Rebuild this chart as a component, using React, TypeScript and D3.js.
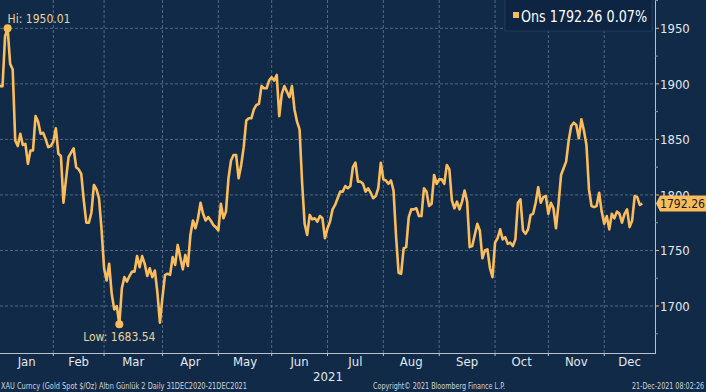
import * as d3 from "d3";
import { useEffect, useRef } from "react";

// XAU daily closes, one per weekday, 31 Dec 2020 -> 21 Dec 2021
const dec2020 = [1898];
const jan = [1898, 1943, 1950.01, 1918, 1913, 1849, 1844, 1855, 1845, 1846, 1828, 1840, 1840, 1871, 1866, 1855, 1856, 1850, 1843, 1844, 1848];
const feb = [1860, 1837, 1835, 1793, 1814, 1834, 1838, 1842, 1825, 1823, 1819, 1795, 1775, 1775, 1784, 1809, 1805, 1797, 1769, 1734];
const mar = [1723, 1738, 1711, 1697, 1700, 1683.54, 1716, 1726, 1722, 1727, 1731, 1731, 1745, 1735, 1745, 1738, 1727, 1734, 1726, 1732, 1712, 1685, 1708];
const apr = [1728, 1729, 1728, 1744, 1737, 1755, 1744, 1733, 1746, 1736, 1764, 1777, 1770, 1779, 1793, 1783, 1777, 1780, 1777, 1773, 1771, 1768];
const may = [1792, 1779, 1785, 1815, 1831, 1836, 1836, 1815, 1827, 1843, 1867, 1869, 1869, 1877, 1881, 1882, 1898, 1896, 1896, 1903, 1906];
const jun = [1903, 1908, 1871, 1891, 1898, 1893, 1888, 1898, 1877, 1866, 1859, 1811, 1774, 1764, 1782, 1778, 1779, 1776, 1781, 1779, 1761, 1770];
const jul = [1776, 1787, 1791, 1797, 1803, 1803, 1808, 1806, 1808, 1825, 1829, 1812, 1812, 1810, 1803, 1806, 1802, 1797, 1799, 1806, 1829, 1814];
const aug = [1813, 1810, 1813, 1804, 1763, 1730, 1729, 1752, 1753, 1780, 1787, 1787, 1788, 1781, 1781, 1806, 1803, 1790, 1792, 1818, 1810, 1814];
const sep = [1814, 1810, 1827, 1823, 1795, 1788, 1794, 1787, 1794, 1804, 1794, 1753, 1754, 1764, 1774, 1768, 1743, 1750, 1751, 1734, 1726, 1757];
const oct = [1761, 1769, 1760, 1762, 1756, 1757, 1754, 1760, 1793, 1796, 1768, 1765, 1769, 1782, 1783, 1793, 1807, 1793, 1798, 1799, 1783];
const nov = [1793, 1788, 1770, 1792, 1818, 1824, 1830, 1849, 1862, 1865, 1863, 1851, 1868, 1858, 1845, 1805, 1790, 1789, 1790, 1802, 1785, 1774];
const dec = [1781, 1769, 1783, 1779, 1785, 1783, 1775, 1783, 1787, 1771, 1777, 1799, 1798, 1791, 1792.26];

const monthLabels = ["Jan", "Feb", "Mar", "Apr", "May", "Jun", "Jul", "Aug", "Sep", "Oct", "Nov", "Dec"];
const monthSeries = [jan, feb, mar, apr, may, jun, jul, aug, sep, oct, nov, dec];
const yTicks = [1700, 1750, 1800, 1850, 1900, 1950];
const yMinorTicks = [1675, 1725, 1775, 1825, 1875, 1925, 1975];

const hiLabel = "Hi: 1950.01";
const lowLabel = "Low: 1683.54";
const legendText = "Ons 1792.26 0.07%";
const lastLabel = "1792.26";
const yearLabel = "2021";
const footerLeft = "XAU Curncy (Gold Spot   $/Oz) Altın Günlük 2  Daily 31DEC2020-21DEC2021";
const footerMid = "Copyright\u00A9 2021 Bloomberg Finance L.P.";
const footerRight = "21-Dec-2021 08:02:26";

const W = 706;
const H = 392;
const BG = "#112a48";
const GOLD = "#fbbd5c";
const FONT = "'DejaVu Sans Condensed', 'DejaVu Sans', sans-serif";

export default function App() {
  const ref = useRef(null);

  useEffect(() => {
    const prices = [...dec2020, ...monthSeries.flat()];
    const plotW = 655, plotH = 353;

    const x = d3.scaleLinear().domain([0, 258]).range([0, plotW]);
    const y = d3.scaleLinear().domain([1657.7, 1975.5]).range([plotH, 0]);

    // last weekday index of each month -> vertical gridlines
    const ends = [];
    let acc = dec2020.length - 1;
    monthSeries.forEach((m) => { acc += m.length; ends.push(acc); });
    const bounds = [0, ...ends.slice(0, 11).map((i) => x(i)), plotW];

    const svg = d3.select(ref.current).html("")
      .append("svg")
      .attr("width", W)
      .attr("height", H)
      .style("display", "block")
      .style("font-family", FONT);

    svg.append("rect").attr("width", W).attr("height", H).attr("fill", BG);

    svg.append("defs").append("clipPath").attr("id", "plot")
      .append("rect").attr("width", plotW).attr("height", plotH);

    // grid
    svg.append("g").selectAll("line").data(yTicks).enter().append("line")
      .attr("x1", 0).attr("x2", plotW)
      .attr("y1", (d) => y(d)).attr("y2", (d) => y(d))
      .attr("stroke", "#8a9bb0").attr("stroke-opacity", 0.7)
      .attr("stroke-width", 0.8).attr("stroke-dasharray", "3,2");

    svg.append("g").selectAll("line").data(ends.slice(0, 11)).enter().append("line")
      .attr("x1", (d) => x(d)).attr("x2", (d) => x(d))
      .attr("y1", 0).attr("y2", plotH)
      .attr("stroke", "#8a9bb0").attr("stroke-opacity", 0.7)
      .attr("stroke-width", 0.8).attr("stroke-dasharray", "3,2");

    // axes
    svg.append("line").attr("x1", plotW + 0.5).attr("x2", plotW + 0.5)
      .attr("y1", 0).attr("y2", plotH).attr("stroke", "#b9c2cc").attr("stroke-width", 1);
    svg.append("line").attr("x1", 0).attr("x2", plotW + 1)
      .attr("y1", plotH + 0.5).attr("y2", plotH + 0.5).attr("stroke", "#b9c2cc").attr("stroke-width", 1);

    svg.append("g").selectAll("line").data(ends.slice(0, 11)).enter().append("line")
      .attr("x1", (d) => x(d)).attr("x2", (d) => x(d))
      .attr("y1", plotH).attr("y2", plotH + 3)
      .attr("stroke", "#b9c2cc");

    svg.append("g").selectAll("line").data(yTicks).enter().append("line")
      .attr("x1", plotW).attr("x2", plotW + 4)
      .attr("y1", (d) => y(d)).attr("y2", (d) => y(d))
      .attr("stroke", GOLD).attr("stroke-width", 1);
    svg.append("g").selectAll("line").data(yMinorTicks.filter((d) => y(d) > 0 && y(d) < plotH)).enter().append("line")
      .attr("x1", plotW).attr("x2", plotW + 3)
      .attr("y1", (d) => y(d)).attr("y2", (d) => y(d))
      .attr("stroke", "#8a9bb0").attr("stroke-width", 1);

    svg.append("g").selectAll("text").data(yTicks).enter().append("text")
      .attr("x", plotW + 5).attr("y", (d) => y(d))
      .attr("dy", "0.36em")
      .attr("fill", "#e2e8ef").attr("font-size", 13)
      .text((d) => d);

    // month labels
    svg.append("g").selectAll("text").data(monthLabels).enter().append("text")
      .attr("x", (d, i) => (bounds[i] + bounds[i + 1]) / 2)
      .attr("y", 366).attr("text-anchor", "middle")
      .attr("fill", "#e2e8ef").attr("font-size", 13)
      .text((d) => d);
    svg.append("text").attr("x", 328).attr("y", 381).attr("text-anchor", "middle")
      .attr("fill", "#e2e8ef").attr("font-size", 13).text(yearLabel);

    // price line
    const line = d3.line().x((d, i) => x(i)).y((d) => y(d));
    svg.append("path").datum(prices)
      .attr("clip-path", "url(#plot)")
      .attr("d", line)
      .attr("fill", "none").attr("stroke", GOLD)
      .attr("stroke-width", 2.6).attr("stroke-linejoin", "round");

    // hi / low markers
    const hiIdx = prices.indexOf(d3.max(prices));
    const loIdx = prices.indexOf(d3.min(prices));
    svg.append("circle").attr("cx", x(hiIdx)).attr("cy", y(prices[hiIdx])).attr("r", 4).attr("fill", GOLD);
    svg.append("circle").attr("cx", x(loIdx)).attr("cy", y(prices[loIdx])).attr("r", 4).attr("fill", GOLD);
    svg.append("text").attr("x", x(hiIdx)).attr("y", y(prices[hiIdx]) - 5)
      .attr("fill", "#ead39c").attr("font-size", 12).text(hiLabel);
    svg.append("text").attr("x", x(loIdx)).attr("y", y(prices[loIdx]) + 17)
      .attr("text-anchor", "middle")
      .attr("fill", "#ead39c").attr("font-size", 12).text(lowLabel);

    // last price tag
    const lastY = y(prices[prices.length - 1]);
    svg.append("path")
      .attr("d", `M${plotW + 1},${lastY} L${plotW + 5},${lastY - 8} L${W},${lastY - 8} L${W},${lastY + 8} L${plotW + 5},${lastY + 8} Z`)
      .attr("fill", GOLD);
    svg.append("text").attr("x", plotW + 5).attr("y", lastY).attr("dy", "0.36em")
      .attr("fill", "#1a1a1a").attr("font-size", 12)
      .attr("textLength", 45).attr("lengthAdjust", "spacingAndGlyphs")
      .text(lastLabel);

    // legend
    const lg = svg.append("g");
    lg.append("rect").attr("x", 505).attr("y", -1).attr("width", 147).attr("height", 32)
      .attr("fill", "#0d2442").attr("stroke", "#1f3a5c");
    lg.append("rect").attr("x", 513).attr("y", 12).attr("width", 6).attr("height", 6).attr("fill", GOLD);
    lg.append("text").attr("x", 521).attr("y", 22)
      .attr("fill", "#ffffff").attr("font-size", 16)
      .attr("textLength", 126).attr("lengthAdjust", "spacingAndGlyphs")
      .text(legendText);

    // footer
    const ft = svg.append("g").attr("fill", "#cfd5dc").attr("font-size", 8);
    ft.append("text").attr("x", 1).attr("y", 389)
      .attr("textLength", 246).attr("lengthAdjust", "spacingAndGlyphs").text(footerLeft);
    ft.append("text").attr("x", 373).attr("y", 389)
      .attr("textLength", 132).attr("lengthAdjust", "spacingAndGlyphs").text(footerMid);
    ft.append("text").attr("x", 632).attr("y", 389)
      .attr("textLength", 72).attr("lengthAdjust", "spacingAndGlyphs").text(footerRight);
  }, []);

  return (
    <div style={{ position: "fixed", left: 0, top: 0, width: W, height: H, background: BG }}>
      <div ref={ref}></div>
    </div>
  );
}
